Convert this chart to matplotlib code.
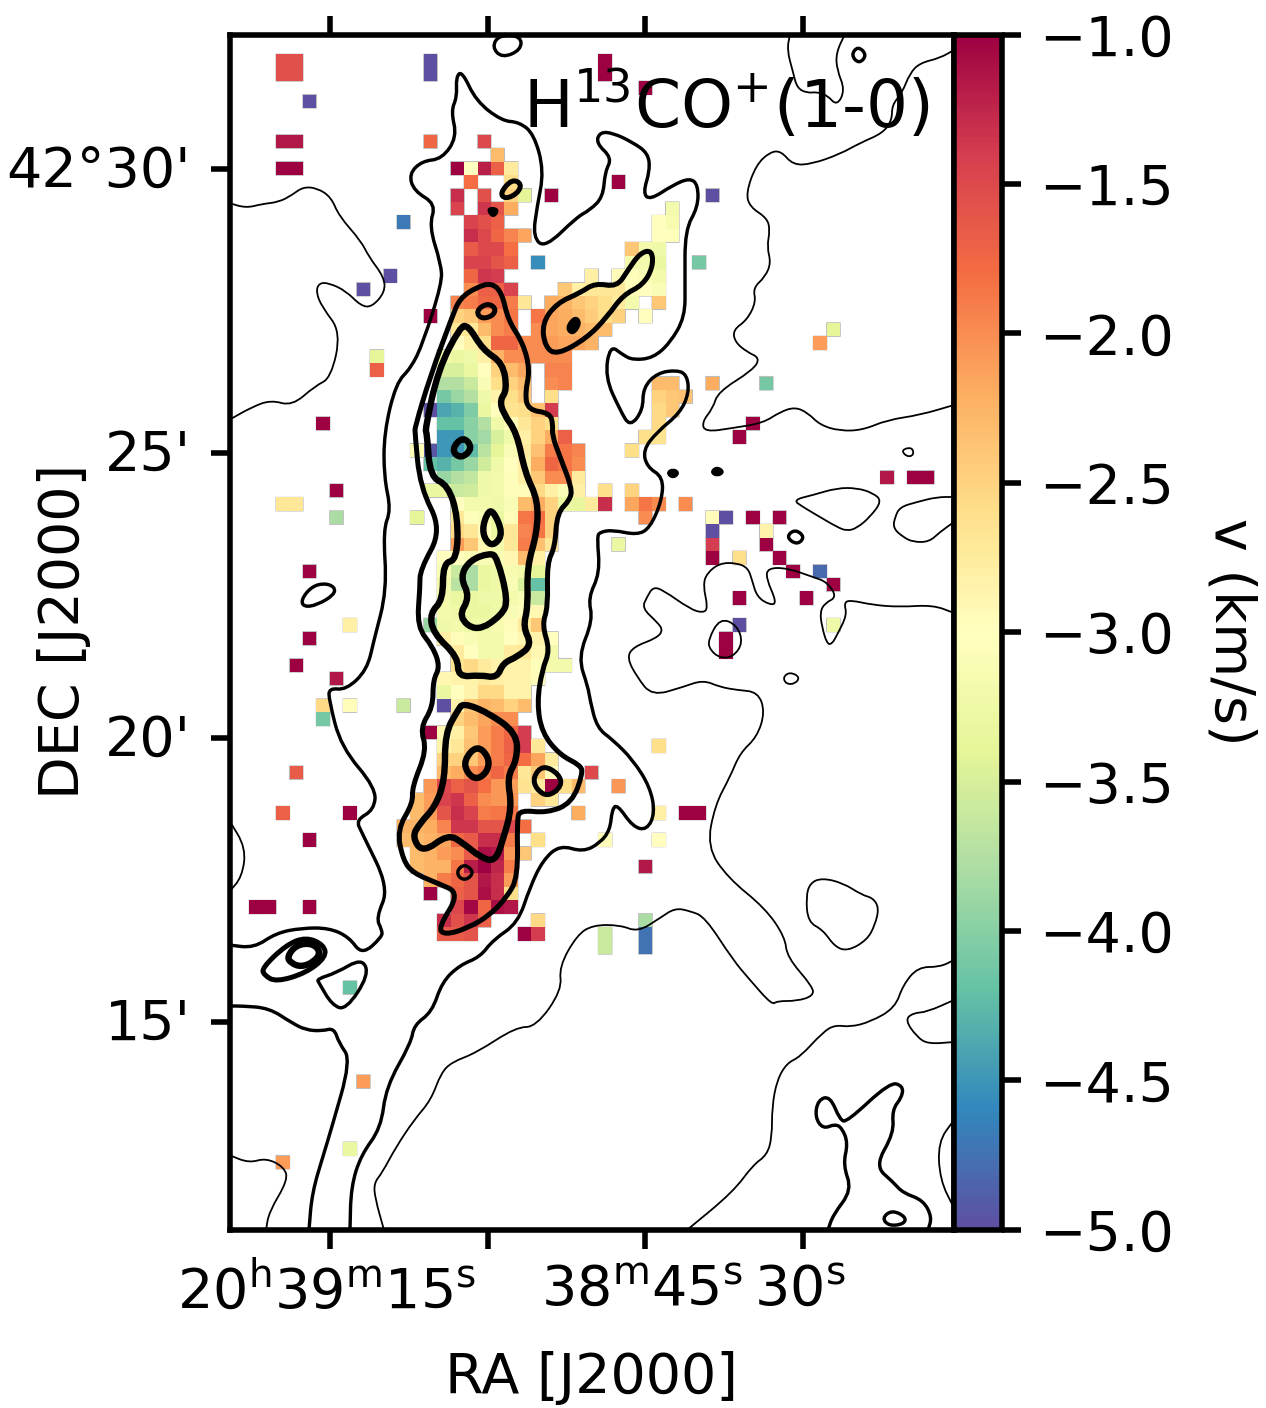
import numpy as np
import matplotlib
matplotlib.use("Agg")
import matplotlib.pyplot as plt
from matplotlib.path import Path
from matplotlib.patches import PathPatch
from matplotlib.transforms import ScaledTranslation

# ---- sky grid: map coordinates are fine trace pixels (as in a WCS axes) ----
MAP_X_LIM = (229.5, 954.0)
MAP_Y_LIM = (1229.7, 34.5)
RA_ZERO_X, MAP_PER_RA_SECOND = 487.5, 10.5      # 20h39m00s
DEC_25_Y, MAP_PER_ARCMIN = 453.0, 56.9          # 42d25'
CELL_X0, CELL_Y0, CELL_SIZE = 450.7, 161.7, 13.43

ra_ticks_seconds = [15, 0, -15, -30]
ra_tick_labels = [r"20$^{\mathrm{h}}$39$^{\mathrm{m}}$15$^{\mathrm{s}}$", "",
                  r"38$^{\mathrm{m}}$45$^{\mathrm{s}}$", r"30$^{\mathrm{s}}$"]
dec_ticks_arcmin = [30, 25, 20, 15]
dec_tick_labels = ["42°30'", "25'", "20'", "15'"]
cbar_ticks = [-1.0, -1.5, -2.0, -2.5, -3.0, -3.5, -4.0, -4.5, -5.0]
v_min, v_max = -5.0, -1.0

# ---- velocity map: (row, first column, values of a run of cells) ----
velocity_runs = [
 (-8,-13,[-1.55,-1.55]),(-8,-2,[-5]),(-8,11,[-1]),
 (-7,-13,[-1.55,-1.55]),(-7,-2,[-5]),(-7,11,[-1]),
 (-6,14,[-1]),(-5,-11,[-5]),
 (-2,-13,[-1.15,-1.15]),(-2,-2,[-1.75]),(-2,2,[-1.5]),
 (-1,3,[-2.3]),
 (0,-13,[-1,-1]),(0,0,[-1,-3,-1.2,-1.7,-2.75]),
 (1,1,[-1.8]),(1,4,[-2.6]),(1,12,[-1]),
 (2,0,[-1.3]),(2,2,[-1.55]),(2,4,[-2.5,-3.4]),(2,7,[-1]),(2,19,[-5]),
 (3,0,[-1.45]),(3,2,[-1.35,-1.6,-2.2]),(3,16,[-3.2]),
 (4,-4,[-4.7]),(4,1,[-1.45,-1.55,-1.7]),(4,15,[-3,-3.15]),
 (5,1,[-1.3,-1.5,-1.75,-1.95,-2.15]),(5,15,[-3,-3.05]),
 (6,1,[-1.65,-1.5,-1.5,-1.8]),(6,13,[-2.4,-3.2,-3.25]),
 (7,1,[-1.45,-1.45,-1.6,-1.7]),(7,6,[-4.55]),(7,13,[-3.2,-3.2,-3.3]),(7,18,[-4.1]),
 (8,-5,[-5]),(8,1,[-1.75,-1.35,-1.4]),(8,10,[-2.8]),(8,12,[-2.95,-3.05,-3.1,-3.2]),
 (9,-7,[-5]),(9,1,[-2,-1.7,-1.7,-1.45]),(9,8,[-2.4,-2.8,-2.7,-2.7,-2.7,-2.95,-3,-3.1]),
 (10,0,[-1.95,-1.9,-1.75,-1.75,-1.9,-2.7]),(10,7,[-2.2,-2.25,-2.4,-2.5,-2.6,-2.75,-3.2]),(10,15,[-2.4]),
 (11,-2,[-1]),(11,0,[-2.5,-2.4,-2.1,-2,-1.85]),(11,6,[-1.85,-2.15,-2.2,-2.3,-2.45,-2.6,-2.5]),(11,14,[-3]),
 (12,0,[-2.7,-2.7,-2.3,-2,-1.9]),(12,6,[-2,-2.15,-2.2,-2.25,-2.3,-2.3]),(12,28,[-3.4]),
 (13,0,[-3,-2.8,-2.6,-1.75,-1.75,-2,-2,-2.1,-2.15,-2.15,-2.25]),(13,27,[-2.1]),
 (14,-6,[-3.4]),(14,-1,[-3.2,-3.3,-3.25,-2.8,-2.25,-2,-2,-2,-2,-2]),
 (15,-6,[-1.7]),(15,-1,[-3.5,-3.5,-3.3,-3,-2.5,-2.3,-2.15]),(15,7,[-1.95,-1.95]),
 (16,-1,[-3.75,-3.75,-3.6,-3.1,-2.6,-2.5,-2.3]),(16,7,[-2,-1.95]),(16,15,[-2.3,-2.3]),(16,19,[-2.2]),(16,23,[-4.1]),
 (17,-1,[-4.1,-3.9,-3.75,-3.25,-2.85,-2.6,-2.4]),(17,7,[-2.6]),(17,15,[-2.5,-2.4,-2.35]),
 (18,-2,[-5,-4.4,-4.3,-4.05,-3.3,-3,-2.65,-2.6,-2.35,-1.4]),(18,15,[-2.55,-2.4]),
 (19,-10,[-1]),(19,-1,[-4.2,-4.2,-4,-3.75,-3.25,-2.95,-2.7,-2.5,-2.6]),(19,15,[-2.55]),(19,22,[-1]),
 (20,-1,[-4.5,-4.5,-4,-3.85,-3.5,-3.25,-2.8,-2.5,-2.2,-1.7]),(20,14,[-2.6,-2.65]),(20,21,[-1]),
 (21,-3,[-2.95]),(21,-2,[-4.95,-4.5,-4.5,-4.25,-3.7,-3.4,-3.1,-2.75,-2.35,-1.9,-1.85,-1.95]),(21,13,[-2.6]),
 (22,-2,[-4.2,-4.3,-4.1,-3.9,-3.55,-3.25,-3,-2.8,-2.2,-1.75,-1.85,-2]),
 (23,-1,[-3.9,-3.75,-3.65,-3.25,-3.2,-3.05,-2.8,-2.4,-2,-2,-2.75]),(23,32,[-1.15]),(23,34,[-1,-1]),
 (24,-9,[-1]),(24,-2,[-3.3,-3.3,-3.6,-3.55,-3.25,-3.2,-3.05,-2.95,-2.55,-2.8,-3.1,-2.8]),(24,11,[-2.6]),(24,13,[-2.5]),
 (25,-13,[-2.7,-2.7]),(25,0,[-3,-3.2,-3.2,-3.25,-3.1,-2.3,-2.2,-2.5,-3.3,-3.35,-2.75,-1.3]),(25,13,[-2.15,-1.85,-2]),(25,17,[-2]),
 (26,-9,[-3.8]),(26,-3,[-3.4]),(26,0,[-2.7,-3.05,-3.1,-3.3,-2.95,-1.85,-1.8,-2.5]),(26,14,[-2]),(26,19,[-2.95,-5]),(26,22,[-1]),(26,24,[-1]),
 (27,0,[-2.55,-2.7,-3,-3.3,-2.7,-1.95,-1.85,-2.5]),(27,19,[-5]),(27,23,[-2.85]),
 (28,0,[-2.1,-2.4,-2.9,-3.2,-2.7,-1.9,-2.35,-2.7]),(28,12,[-3.3]),(28,19,[-1.4]),(28,23,[-1]),
 (29,-1,[-3,-3,-3.1,-3.1,-3.1,-2.9,-2.3,-2.8]),(29,19,[-1]),(29,21,[-2.6]),(29,24,[-1]),
 (30,-11,[-1]),(30,-1,[-3.1,-3.6,-3.8,-3.3,-3.25,-3.15,-3.2,-3.4]),(30,25,[-1]),(30,27,[-4.8]),
 (31,-1,[-3.2,-3.7,-3.8,-3.3,-3.25,-3.1,-3.5,-4.2]),(31,28,[-1]),
 (32,-1,[-3.2,-3.3,-3.3,-3.25,-3.25,-3.2,-3.1,-3.6]),(32,21,[-1]),(32,26,[-1]),
 (33,-1,[-3.2,-3.25,-3.3,-3.3,-3.25,-3.1,-2.95,-2.9]),
 (34,-8,[-2.8]),(34,-2,[-3.9,-3.25,-3.2,-3.25,-3.25,-3.15,-2.95,-2.75,-2.4]),(34,21,[-5]),(34,28,[-3.25]),
 (35,-11,[-1]),(35,-1,[-2.8,-2.95,-3.1,-3.2,-3.2,-3,-2.9,-2.85,-3]),(35,20,[-1]),
 (36,0,[-2.75,-3,-3.2,-3.2,-2.75,-2.7,-2.9,-3.2]),(36,20,[-1]),
 (37,-12,[-1]),(37,0,[-2.65,-2.55,-2.75,-2.85,-2.85,-2.85,-3.05,-3.2,-3.2]),
 (38,-9,[-1.15]),(38,-1,[-2.9,-2.85,-2.85,-2.75,-2.8,-2.85,-2.85,-2.95]),
 (39,-1,[-3.3,-3,-2.85,-2.55,-2.55,-2.85,-2.85]),
 (40,-10,[-2.55]),(40,-8,[-2.95]),(40,-4,[-3.6]),(40,-1,[-5,-2.85,-2.4,-2.25,-2.3,-2.5,-2.3]),
 (41,-10,[-4.1]),(41,0,[-2.5,-2.3,-2.15,-2,-2]),
 (42,-2,[-1,-2.9,-2.8,-2.4,-2.1,-1.9,-1.75,-1.4]),
 (43,-1,[-2.85,-2.7,-2.35,-2.1,-1.9,-1.7,-1.4,-2.7]),(43,15,[-2.6]),
 (44,-1,[-2.5,-2.5,-2.4,-2.1,-1.9,-1.75,-1.8,-2.15,-2.75]),
 (45,-12,[-1.65]),(45,-1,[-2.3,-2.2,-2,-1.9,-1.75,-1.9,-2.7,-2.4,-2.95]),(45,10,[-1.5]),
 (46,-2,[-2.05,-1.5,-1.7,-1.6,-1.8,-2.05,-2.1,-2.65,-2.75,-1,-2.6,-2.3]),(46,12,[-2.05]),
 (47,-3,[-2.3,-2.1,-1.45,-1.35,-1.7,-2,-2.05,-2.05]),(47,6,[-2.5,-2.7]),
 (48,-13,[-1.7]),(48,-8,[-1]),(48,-3,[-2.3,-2.1,-1.6,-1.3,-1.45,-1.9,-1.85,-1.85]),(48,9,[-2.2]),(48,15,[-2.8]),(48,17,[-1,-1]),
 (49,-4,[-2.25,-2.25,-2.2,-1.95,-1.35,-1.35,-1.6,-1.6,-1.5,-1.8]),
 (50,-11,[-1]),(50,-4,[-2.3,-2.3,-2.25,-2.15,-1.75,-1.65,-1.3,-1.3,-1.9]),(50,6,[-2.6]),(50,11,[-2.95]),(50,15,[-3]),
 (51,-3,[-2.3,-2.25,-2.1,-2,-1.65,-1.1,-1.15,-2.05,-2.4]),
 (52,-3,[-2.3,-2.25,-2.25,-1.85,-1.2,-1,-1.25,-1.9]),(52,14,[-1.15]),
 (53,-2,[-2.25,-1.9,-1.75,-1.6,-1.15,-1.3,-2.1]),
 (54,-2,[-1]),(54,0,[-1.7,-1.6,-1.1,-1.3,-2.6]),
 (55,-15,[-1,-1]),(55,-11,[-1]),(55,0,[-1.5,-1.05,-1.75,-1.1,-1.15]),
 (56,-1,[-1.3,-1.55,-1.35,-1.7]),(56,6,[-2.55]),(56,14,[-3.8]),
 (57,-1,[-1.65,-1.65,-1.6]),(57,5,[-1,-1.4]),(57,11,[-3.6]),(57,14,[-4.75]),
 (58,11,[-3.6]),(58,14,[-4.75]),
 (61,-8,[-4.2]),(68,-7,[-2.1]),(73,-8,[-3.3]),(74,-13,[-2.1]),
]

# ---- integrated intensity contours, traced in map coordinates ----
level1_open = [
 [(229,203),(246,208),(262,204),(279,202),(292,195),(303,187),(317,188),(331,197),(339,216),(361,241),(369,257),(384,277),(385,292),(372,307),(361,306),(346,291),(329,283),(319,283),(316,292),(322,307),(341,332),(331,378),(315,386),(292,406),(271,400),(252,407),(229,420)],
 [(954,50),(940,58),(920,63),(910,73),(902,93),(892,105),(892,120),(883,133),(860,143),(840,154),(812,164),(793,165),(781,151),(770,152),(756,165),(746,193),(750,207),(767,218),(770,230),(767,247),(771,263),(765,277),(753,288),(756,302),(747,320),(733,330),(735,342),(747,352),(760,358),(753,370),(718,392),(713,408),(702,422),(705,432),(733,428),(763,423),(780,412),(795,407),(808,413),(820,425),(840,431),(863,430),(887,420),(920,415),(954,405)],
 [(790,34),(787,50),(793,72),(797,88),(807,93),(817,92),(827,95),(837,106),(845,90),(837,70),(836,53),(845,34)],
 [(954,497),(937,497),(917,502),(900,507),(895,517),(893,528),(903,537),(913,542),(929,542),(940,532),(954,522)],
 [(954,613),(933,605),(900,607),(873,605),(850,600),(844,603),(847,615),(837,635),(832,644),(827,644),(822,627),(820,612),(825,603),(837,597),(827,582),(813,577),(787,568),(768,568),(766,578),(777,603),(770,605),(757,597),(752,580),(748,568),(737,563),(720,563),(707,573),(703,585),(708,608),(703,613),(690,609),(663,590),(653,587),(647,597),(642,608),(657,622),(663,630),(657,638),(633,647),(627,658),(637,677),(652,696),(683,687),(703,680),(720,687),(737,690),(758,692),(765,712),(757,737),(740,753),(730,777),(715,805),(707,847),(728,878),(765,908),(785,937),(787,957),(813,987),(813,996),(797,1001),(777,1001),(772,1005),(750,980),(733,960),(705,917),(690,911),(675,908),(660,918),(638,932),(620,925),(593,925),(577,935),(559,967),(562,990),(536,1027),(516,1027),(476,1053),(452,1062),(441,1073),(431,1100),(414,1120),(396,1147),(382,1173),(374,1183),(375,1198),(384,1230)],
 [(954,960),(940,967),(918,967),(903,985),(895,1008),(870,1022),(850,1027),(835,1025),(823,1032),(800,1057),(787,1063),(777,1080),(772,1107),(772,1137),(767,1155),(753,1165),(733,1192),(687,1230)],
 [(954,1000),(927,1012),(913,1013),(905,1020),(917,1037),(928,1044),(954,1042)],
 [(954,1120),(938,1142),(940,1180),(954,1208)],
 [(229,1155),(249,1163),(266,1158),(284,1167),(288,1180),(269,1212),(266,1230)],
 [(229,820),(246,848),(242,877),(229,892)],
]
level1_closed = [
 [(901,450),(912,447),(914,455),(907,457)],
 [(783,677),(790,672),(800,677),(795,684),(786,684)],
 [(793,500),(813,495),(837,488),(857,488),(873,493),(882,501),(870,517),(857,528),(847,531),(837,527),(820,517),(803,507)],
 [(806,897),(810,883),(822,878),(843,883),(862,895),(873,898),(879,908),(875,925),(867,940),(848,951),(835,947),(823,930),(808,922)],
 [(708,640),(720,618),(737,625),(743,643),(733,657),(720,658),(710,650)],
]
level2_open = [
 [(229,1006),(242,1006),(269,1008),(292,1023),(306,1030),(322,1031),(334,1028),(339,1043),(351,1060),(331,1130),(324,1153),(312,1193),(309,1230)],
 [(350,1230),(351,1187),(361,1155),(381,1128),(386,1087),(411,1043),(414,1025),(432,1012),(442,982),(460,965),(480,957),(493,940),(518,923),(530,887),(543,860),(560,845),(583,852),(600,843),(610,830),(612,810),(617,804),(633,827),(647,830),(655,813),(650,787),(633,760),(613,740),(597,728),(590,700),(588,687),(578,657),(593,620),(588,598),(600,573),(597,537),(600,532),(613,530),(637,535),(650,528),(662,500),(663,477),(647,467),(643,450),(657,432),(680,413),(689,393),(687,375),(677,370),(657,373),(643,388),(643,410),(630,427),(620,410),(605,377),(610,345),(623,355),(633,360),(653,358),(670,343),(685,317),(685,283),(685,230),(698,207),(698,185),(690,178),(673,185),(650,200),(643,193),(650,170),(648,153),(632,142),(613,133),(600,132),(596,143),(612,158),(605,172),(603,197),(590,210),(577,217),(545,248),(533,237),(537,207),(544,171),(534,134),(519,122),(502,121),(476,101),(462,71),(456,77),(457,97),(451,111),(457,137),(442,159),(422,161),(409,174),(414,191),(436,204),(429,226),(441,264),(442,283),(423,343),(411,368),(396,383),(384,433),(384,477),(391,510),(383,530),(387,590),(374,640),(367,670),(346,690),(329,688),(329,700),(341,747),(376,788),(374,810),(356,820),(362,833),(389,888),(376,918),(382,930),(382,937),(362,955),(349,937),(329,928),(302,928),(276,933),(254,948),(229,945)],
 [(828,1230),(833,1215),(852,1190),(843,1165),(848,1143),(842,1128),(835,1124),(823,1129),(815,1117),(818,1100),(830,1096),(840,1120),(847,1122),(890,1082),(903,1086),(902,1097),(892,1110),(894,1133),(875,1166),(893,1182),(903,1193),(923,1200),(932,1217),(928,1230)],
]
level2_closed = [
 [(317,979),(336,973),(362,958),(369,975),(346,1010),(332,1005),(319,983)],
 [(492,47),(499,35),(521,36),(521,50),(502,58)],
 [(851,55),(858,46),(867,55),(859,64)],
 [(786,537),(795,529),(805,537),(797,545)],
 [(301,600),(311,587),(324,583),(335,587),(334,595),(317,605),(304,607)],
 [(882,1218),(892,1210),(906,1217),(904,1224),(889,1226)],
 [(457,870),(465,864),(474,872),(467,880),(459,878)],
]
level3_closed = [
 [(415,427),(430,377),(452,317),(460,298),(477,287),(492,283),(502,293),(508,320),(523,343),(530,370),(525,393),(528,410),(550,413),(553,425),(552,435),(560,457),(572,488),(570,500),(557,513),(555,547),(547,563),(548,607),(542,625),(550,650),(542,670),(537,703),(542,733),(560,755),(580,765),(583,773),(572,803),(547,813),(520,810),(517,820),(518,877),(507,897),(490,915),(468,928),(445,935),(438,928),(460,893),(437,883),(413,873),(403,860),(397,830),(413,803),(412,787),(427,750),(420,728),(433,707),(433,680),(440,667),(433,647),(417,627),(420,587),(420,570),(442,530),(420,487),(415,433)],
 [(542,323),(557,303),(580,293),(595,283),(617,287),(628,270),(640,253),(652,250),(653,267),(643,285),(623,295),(607,317),(587,338),(557,355),(545,347)],
 [(262,968),(286,945),(306,937),(324,945),(326,957),(306,973),(276,982),(264,975)],
 [(500,193),(512,179),(522,184),(517,194),(505,199)],
 [(533,777),(543,765),(559,774),(562,786),(548,797),(536,789)],
 [(476,311),(487,303),(496,308),(493,316),(481,319)],
]
level4_closed = [
 [(425,430),(438,370),(460,327),(468,325),(483,350),(503,363),(507,390),(500,400),(503,413),(517,433),(525,473),(538,500),(537,533),(527,567),(528,607),(523,627),(532,645),(517,657),(503,663),(497,678),(480,675),(458,677),(458,657),(433,633),(430,613),(443,600),(443,563),(457,560),(458,517),(448,485),(430,477),(427,433)],
 [(487,513),(493,510),(503,533),(495,545),(487,543),(482,530)],
 [(497,557),(508,600),(502,615),(477,632),(458,617),(470,597),(460,577),(470,560),(490,553)],
 [(463,703),(487,712),(517,733),(517,760),(507,777),(512,807),(503,840),(495,862),(480,857),(463,843),(448,834),(423,853),(412,837),(420,823),(435,807),(445,780),(445,733),(458,710)],
 [(464,760),(477,745),(489,757),(488,771),(477,780),(467,773)],
 [(287,957),(296,945),(312,943),(321,952),(314,962),(301,967),(291,963)],
 [(451,450),(463,436),(473,448),(461,459)],
]
peak_blobs = [
 [(487,208),(499,209),(493,218)],
 [(566,328),(575,316),(581,323),(573,335)],
 [(667,473),(673,469),(679,473),(673,478)],
 [(711,472),(717,467),(724,472),(717,476)],
]

FIG_W, FIG_H = 1266, 1408
plt.rcParams["font.family"] = ["DejaVu Sans"]
plt.rcParams["mathtext.default"] = "regular"
TICK_FS = 40
LW = 4.0

fig = plt.figure(figsize=(FIG_W/100, FIG_H/100), dpi=100)
L, R = MAP_X_LIM
B, T = MAP_Y_LIM
ax = fig.add_axes([L/FIG_W, 1-B/FIG_H, (R-L)/FIG_W, (B-T)/FIG_H])
cax = fig.add_axes([R/FIG_W, 1-B/FIG_H, 47.5/FIG_W, (B-T)/FIG_H])

rows = [r[0] for r in velocity_runs]
cols = [r[1]+i for r in velocity_runs for i in range(len(r[2]))]
row0, col0 = min(rows), min(cols)
grid = np.full((max(rows)-row0+1, max(cols)-col0+1), np.nan)
for row, col, vals in velocity_runs:
    for i, v in enumerate(vals):
        grid[row-row0, col-col0+i] = v
masked = np.ma.masked_invalid(grid)
x_edges = CELL_X0 + CELL_SIZE*(col0 + np.arange(grid.shape[1]+1))
y_edges = CELL_Y0 + CELL_SIZE*(row0 + np.arange(grid.shape[0]+1))

ax.pcolor(x_edges, y_edges, masked, cmap="Spectral_r", vmin=v_min, vmax=v_max,
          edgecolors=(0.74, 0.74, 0.74), linewidth=0.9, zorder=1)
mesh = ax.pcolormesh(x_edges, y_edges, masked, cmap="Spectral_r", vmin=v_min, vmax=v_max,
                     antialiased=False, zorder=1.1)


def spline_path(pts, closed):
    p = np.asarray(pts, float)
    if closed:
        mids = (p + np.roll(p, -1, axis=0)) / 2
        verts, codes = [mids[-1]], [Path.MOVETO]
        for i in range(len(p)):
            verts += [p[i], mids[i]]
            codes += [Path.CURVE3, Path.CURVE3]
        return Path(verts + [mids[-1]], codes + [Path.CLOSEPOLY])
    mids = (p[:-1] + p[1:]) / 2
    verts, codes = [p[0], mids[0]], [Path.MOVETO, Path.LINETO]
    for i in range(1, len(p)-1):
        verts += [p[i], mids[i]]
        codes += [Path.CURVE3, Path.CURVE3]
    verts.append(p[-1]); codes.append(Path.LINETO)
    return Path(verts, codes)


def add_lines(paths, closed, width_px, fill=False):
    for pts in paths:
        ax.add_patch(PathPatch(spline_path(pts, closed), fill=fill, facecolor="k",
                               edgecolor="k", lw=width_px*0.72, capstyle="round",
                               joinstyle="round", zorder=3))


add_lines(level1_open, False, 1.8)
add_lines(level1_closed, True, 1.8)
add_lines(level2_open, False, 3.4)
add_lines(level2_closed, True, 3.4)
add_lines(level3_closed, True, 5.0)
add_lines(level4_closed, True, 6.4)
add_lines(peak_blobs, True, 3.0, fill=True)

ax.set_xlim(L, R)
ax.set_ylim(B, T)
for s in ax.spines.values():
    s.set_linewidth(LW)
ax.set_xticks([RA_ZERO_X - MAP_PER_RA_SECOND*s for s in ra_ticks_seconds])
ax.set_xticklabels(ra_tick_labels)
ax.set_yticks([DEC_25_Y + MAP_PER_ARCMIN*(25-d) for d in dec_ticks_arcmin])
ax.set_yticklabels(dec_tick_labels)
ax.tick_params(axis="x", which="major", top=True, bottom=True, direction="out",
               length=13.5, width=LW, labelsize=TICK_FS, pad=11)
ax.tick_params(axis="y", which="major", left=True, right=False, direction="out",
               length=13.5, width=LW, labelsize=TICK_FS, pad=15)
shift_x = ScaledTranslation(-3/100, 0, fig.dpi_scale_trans)
shift_y = ScaledTranslation(1/100, 3/100, fig.dpi_scale_trans)
for lab in ax.get_xticklabels():
    lab.set_transform(lab.get_transform() + shift_x)
for lab in ax.get_yticklabels():
    lab.set_transform(lab.get_transform() + shift_y)
ax.set_xlabel("RA [J2000]", fontsize=TICK_FS, ha="center", va="center")
ax.xaxis.set_label_coords(591/FIG_W, 1-1378/FIG_H, transform=fig.transFigure)
ax.set_ylabel("DEC [J2000]", fontsize=TICK_FS, ha="center", va="center")
ax.yaxis.set_label_coords(64/FIG_W, 1-631/FIG_H, transform=fig.transFigure)

ax.text(726.5, 128, "H$^{13}$CO$^{+}$(1-0)", fontsize=47.6, ha="center", va="baseline", zorder=5)

cb = fig.colorbar(mesh, cax=cax)
cb.set_ticks(cbar_ticks)
cb.outline.set_linewidth(LW)
cax.tick_params(axis="y", length=14, width=LW, labelsize=TICK_FS, pad=13)
cb.set_label("v (km/s)", fontsize=TICK_FS, rotation=270, ha="center", va="center")
cax.yaxis.set_label_coords(1230/FIG_W, 1-632/FIG_H, transform=fig.transFigure)

fig.savefig("out.png", dpi=100)
